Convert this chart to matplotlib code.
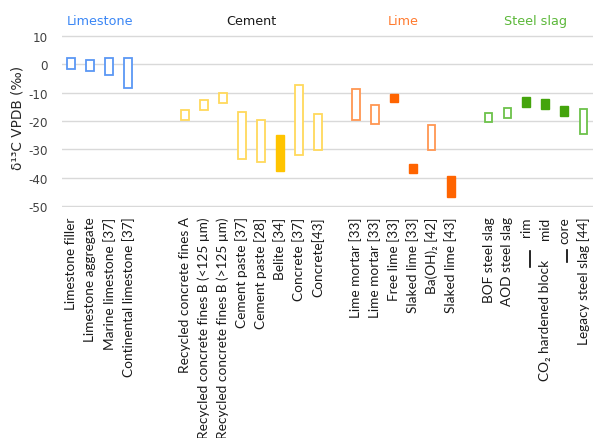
import numpy as np
import matplotlib
matplotlib.use('Agg')
import matplotlib.pyplot as plt
from matplotlib.transforms import blended_transform_factory

plt.rcParams['axes.unicode_minus'] = False

# d13C ranges (permil VPDB) per material, grouped by source
groups = ['Limestone', 'Cement', 'Lime', 'Steel slag']

limestone_labels = ['Limestone filler', 'Limestone aggregate', 'Marine limestone [37]',
                    'Continental limestone [37]']
limestone_hi = [2.0, 1.3, 2.3, 2.1]
limestone_lo = [-1.7, -2.4, -3.8, -8.5]
limestone_filled = [False, False, False, False]

cement_labels = ['Recycled concrete fines A', 'Recycled concrete fines B (<125 µm)',
                 'Recycled concrete fines B (>125 µm)', 'Cement paste [37]', 'Cement paste [28]',
                 'Belite [34]', 'Concrete [37]', 'Concrete[43]']
cement_hi = [-16.3, -12.6, -10.3, -16.9, -19.8, -25.1, -7.5, -17.7]
cement_lo = [-19.8, -16.0, -13.7, -33.3, -34.5, -37.5, -31.9, -30.3]
cement_filled = [False, False, False, False, False, True, False, False]

lime_labels = ['Lime mortar [33]', 'Lime mortar [33]', 'Free lime [33]', 'Slaked lime [33]',
               'Ba(OH)₂ [42]', 'Slaked lime [43]']
lime_hi = [-8.7, -14.3, -10.5, -35.2, -21.4, -39.4]
lime_lo = [-19.8, -21.1, -13.5, -38.4, -30.1, -46.6]
lime_filled = [False, False, True, True, False, True]

slag_labels = ['BOF steel slag', 'AOD steel slag', 'rim', 'mid', 'core', 'Legacy steel slag [44]']
slag_hi = [-17.1, -15.6, -11.6, -12.3, -14.7, -15.8]
slag_lo = [-20.3, -19.1, -15.1, -15.8, -18.2, -24.6]
slag_filled = [False, False, True, True, True, False]

all_labels = [limestone_labels, cement_labels, lime_labels, slag_labels]
all_hi = [limestone_hi, cement_hi, lime_hi, slag_hi]
all_lo = [limestone_lo, cement_lo, lime_lo, slag_lo]
all_filled = [limestone_filled, cement_filled, lime_filled, slag_filled]
gaps_before = [0, 2, 1, 1]

# (open edge, filled face, header colour)
colours = [('#5b97f4', '#3f7fee', '#3a86f5'),
           ('#ffd95c', '#ffc400', '#1a1a1a'),
           ('#ff9652', '#ff6400', '#ff7a2e'),
           ('#6cc24a', '#44a40c', '#5cb83a')]

fig = plt.figure(figsize=(5.94, 4.39), dpi=100)
ax = fig.add_axes([0.104, 0.5253, 0.894, 0.3937])

font_lbl = ['Lato', 'DejaVu Sans']
tick_pos, tick_lbl = [], []
pos = 0
group_centres = []
for g in range(len(groups)):
    pos += gaps_before[g]
    xs = np.arange(pos, pos + len(all_labels[g]))
    lo = np.array(all_lo[g])
    hi = np.array(all_hi[g])
    edge, fill, _ = colours[g]
    for x, l, h, f in zip(xs, lo, hi, all_filled[g]):
        if f:
            ax.bar(x, h - l, bottom=l, width=0.42, color=fill, edgecolor=fill,
                   linewidth=1.0, zorder=3)
        else:
            ax.bar(x, h - l, bottom=l, width=0.40, color='white', edgecolor=edge,
                   linewidth=1.3, zorder=3)
    group_centres.append(xs.mean())
    tick_pos.extend(xs)
    tick_lbl.extend(all_labels[g])
    pos += len(all_labels[g])

ax.set_xlim(-0.5, pos - 0.5)
ax.set_ylim(-50.4, 10.4)
ax.set_yticks(np.arange(-50, 11, 10))
ax.yaxis.grid(True, color='#d9d9d9', linewidth=1.0, zorder=0)
ax.set_axisbelow(True)
for s in ax.spines.values():
    s.set_visible(False)

ax.set_xticks(tick_pos)
ax.set_xticklabels(tick_lbl, rotation=90, family=font_lbl, fontsize=9.8, color='#1a1a1a')
ax.tick_params(axis='x', length=0, pad=6.5)
ax.tick_params(axis='y', length=0, pad=10, labelsize=8.6, labelcolor='#404040')

trans = blended_transform_factory(ax.transData, ax.transAxes)
for g, name in enumerate(groups):
    ax.text(group_centres[g], 1.08, name, transform=trans, ha='center', va='center',
            fontsize=9.2, color=colours[g][2])

# outer label for the three block positions
block_x = tick_pos[tick_lbl.index('mid')]
ax.text(block_x, -0.30, 'CO₂ hardened block', transform=trans, rotation=90,
        ha='center', va='top', family=font_lbl, fontsize=9.8, color='#1a1a1a')
ax.plot([block_x - 0.8, block_x - 0.8], [-0.255, -0.345], transform=trans,
        color='black', linewidth=1.2, clip_on=False)
ax.plot([block_x + 1.15, block_x + 1.15], [-0.245, -0.315], transform=trans,
        color='black', linewidth=1.2, clip_on=False)

fig.text(0.030, 0.731, 'δ¹³C VPDB (‰)', rotation=90, ha='center', va='center',
         fontsize=9.8, color='#262626')

fig.savefig('out.png', dpi=100)
